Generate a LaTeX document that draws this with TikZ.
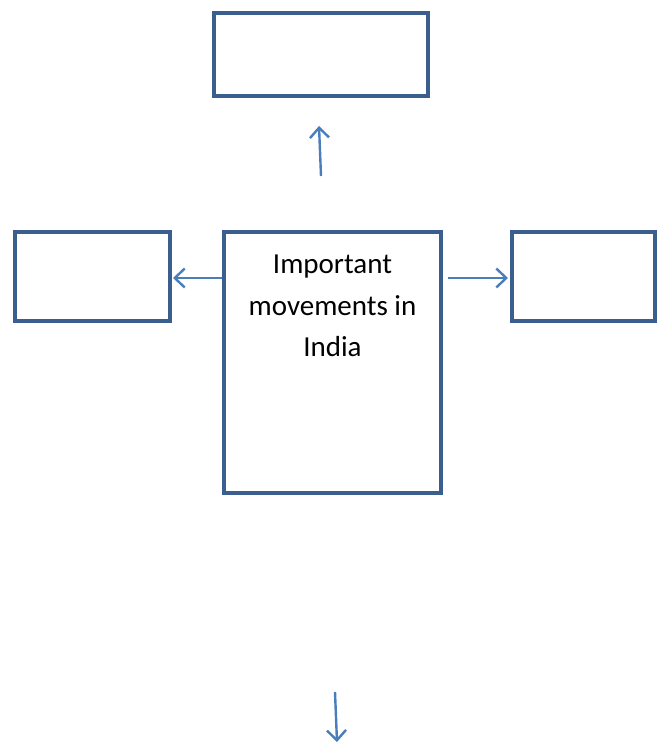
\documentclass[tikz,border=0pt]{standalone}
\usepackage{fontspec}
\setmainfont{Carlito}
\usetikzlibrary{arrows.meta}
\definecolor{boxline}{HTML}{3A5F8F}
\definecolor{arrowline}{HTML}{4A7EBB}
\begin{document}
\begin{tikzpicture}[x=1pt,y=-1pt,
  box/.style={draw=boxline,line width=4pt},
  link/.style={draw=arrowline,line width=2.4pt,-{Straight Barb[length=10pt,width=19pt,line width=2.4pt]}}]
\useasboundingbox (0,0) rectangle (663,743);
% boxes
\draw[box] (214,13) rectangle (428,96);
\draw[box] (15,232) rectangle (170,321);
\draw[box] (224,232) rectangle (441,493);
\draw[box] (512,232) rectangle (655,321);
% title text in the central box
\node[anchor=north,align=center,font=\fontsize{29}{41.5}\selectfont,inner sep=0pt] (title) at (332.5,255) {Important\\movements in\\India};
% arrow end points
\coordinate (upS) at (321,176);
\coordinate (upE) at (319,126);
\coordinate (lS) at (222,278);
\coordinate (lE) at (173,278);
\coordinate (rS) at (448,278);
\coordinate (rE) at (508,278);
\coordinate (dS) at (335,692);
\coordinate (dE) at (337,742);
\draw[link] (upS) -- (upE);
\draw[link] (lS) -- (lE);
\draw[link] (rS) -- (rE);
\draw[link] (dS) -- (dE);
\end{tikzpicture}
\end{document}
